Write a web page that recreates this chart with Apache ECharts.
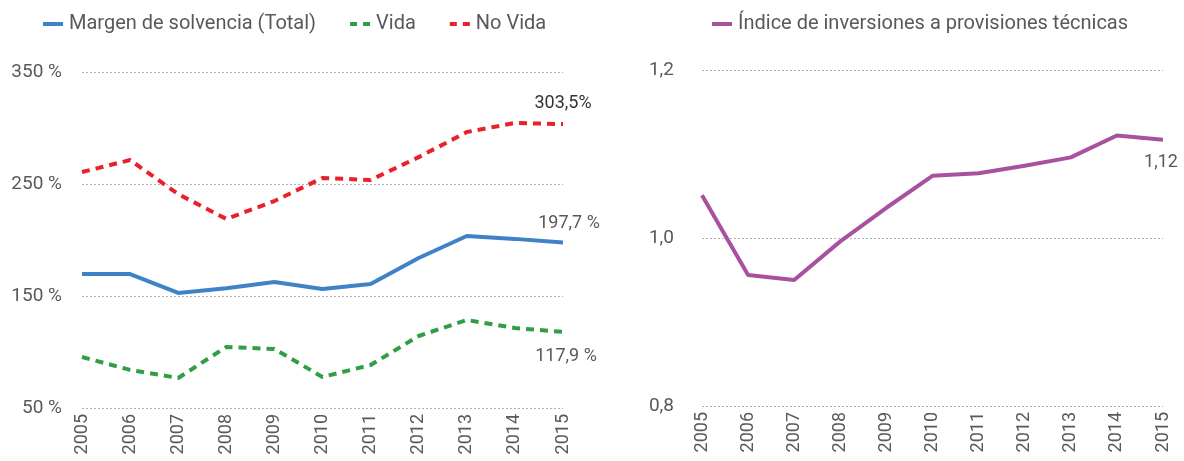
<!DOCTYPE html>
<html>
<head>
<meta charset="utf-8">
<script src="https://cdn.jsdelivr.net/npm/echarts@6/dist/echarts.min.js"></script>
<style>
    html, body { margin: 0; padding: 0; background: #fff; }
    #chart { width: 1184px; height: 461px; }
</style>
</head>
<body>
<div id="chart"></div>
<script>
const years = ['2005', '2006', '2007', '2008', '2009', '2010', '2011', '2012', '2013', '2014', '2015'];
const totalValues = [169.6, 169.6, 152.7, 157, 162.5, 156.3, 160.7, 183.9, 203.6, 201, 197.7];
const vidaValues = [95.5, 84, 76.8, 104.5, 102.7, 77.7, 88.4, 114.3, 128.6, 121.4, 117.9];
const noVidaValues = [260.7, 271.4, 241, 218.8, 234.8, 255.4, 253.6, 274, 296.4, 304.5, 303.5];
const indiceValues = [1.051, 0.956, 0.950, 0.996, 1.036, 1.074, 1.077, 1.086, 1.096, 1.122, 1.117];
const leftTicks = [50, 150, 250, 350];
const rightTicks = [0.8, 1.0, 1.2];

const font = '"Roboto", sans-serif';
const gray = '#595959';

// etiqueta en el último punto, con un markPoint invisible
function lastLabel(values, text, pos, color, dist, dx) {
    const last = values.length - 1;
    return {
        symbol: 'circle',
        symbolSize: 0,
        silent: true,
        data: [{
            coord: [last, values[last]],
            label: {
                show: true,
                position: pos,
                distance: dist,
                offset: [dx, 0],
                formatter: text,
                color: color,
                fontSize: 18,
                fontFamily: font
            }
        }]
    };
}

function xAxis(idx) {
    return {
        type: 'category',
        gridIndex: idx,
        boundaryGap: false,
        data: years,
        axisLine: { show: false },
        axisTick: { show: false },
        axisLabel: { rotate: 90, color: gray, fontSize: 18, fontFamily: font, margin: 6 }
    };
}

const legendText = { color: gray, fontSize: 20, fontFamily: font, padding: [0, 0, 0, 1] };
const solidIcon = 'path://M0,0h20v4h-20z';
const dashIcon = 'path://M0,0h7v4h-7z M13,0h7v4h-7z';

let myChart = echarts.init(document.getElementById('chart'));
myChart.setOption({
    animation: false,
    legend: [{
        left: 38,
        top: 9,
        itemWidth: 20,
        itemHeight: 4,
        itemGap: 34,
        textStyle: legendText,
        data: [
            { name: 'Margen de solvencia (Total)', icon: solidIcon },
            { name: 'Vida', icon: dashIcon },
            { name: 'No Vida', icon: dashIcon }
        ]
    }, {
        left: 707,
        top: 9,
        itemWidth: 20,
        itemHeight: 4,
        textStyle: legendText,
        data: [{ name: 'Índice de inversiones a provisiones técnicas', icon: solidIcon }]
    }],
    grid: [
        { left: 82, right: 621, top: 72, bottom: 53 },
        { left: 702, right: 21, top: 70, bottom: 55 }
    ],
    xAxis: [xAxis(0), xAxis(1)],
    yAxis: [{
        type: 'value',
        gridIndex: 0,
        min: leftTicks[0],
        max: leftTicks[leftTicks.length - 1],
        interval: 100,
        axisLine: { show: false },
        axisTick: { show: false },
        splitLine: { lineStyle: { color: '#b0b0b0', type: [2, 2], width: 1 } },
        axisLabel: { color: gray, fontSize: 19, fontFamily: font, margin: 20, formatter: (v) => v + ' %' }
    }, {
        type: 'value',
        gridIndex: 1,
        min: rightTicks[0],
        max: rightTicks[rightTicks.length - 1],
        interval: 0.2,
        axisLine: { show: false },
        axisTick: { show: false },
        splitLine: { lineStyle: { color: '#b0b0b0', type: [2, 2], width: 1 } },
        axisLabel: { color: gray, fontSize: 19, fontFamily: font, margin: 28, formatter: (v) => v.toFixed(1).replace('.', ',') }
    }],
    series: [{
        name: 'Margen de solvencia (Total)',
        type: 'line',
        xAxisIndex: 0,
        yAxisIndex: 0,
        showSymbol: false,
        symbol: 'none',
        color: '#3f82c8',
        lineStyle: { width: 4, color: '#3f82c8' },
        data: totalValues,
        markPoint: lastLabel(totalValues, '197,7 %', 'top', gray, 10, 6)
    }, {
        name: 'Vida',
        type: 'line',
        xAxisIndex: 0,
        yAxisIndex: 0,
        showSymbol: false,
        symbol: 'none',
        color: '#2f9e45',
        lineStyle: { width: 4, color: '#2f9e45', type: [8, 6] },
        data: vidaValues,
        markPoint: lastLabel(vidaValues, '117,9 %', 'bottom', gray, 16, 3)
    }, {
        name: 'No Vida',
        type: 'line',
        xAxisIndex: 0,
        yAxisIndex: 0,
        showSymbol: false,
        symbol: 'none',
        color: '#e8212b',
        lineStyle: { width: 4, color: '#e8212b', type: [8, 6] },
        data: noVidaValues,
        markPoint: lastLabel(noVidaValues, '303,5%', 'top', '#333333', 12, 0)
    }, {
        name: 'Índice de inversiones a provisiones técnicas',
        type: 'line',
        xAxisIndex: 1,
        yAxisIndex: 1,
        showSymbol: false,
        symbol: 'none',
        color: '#a8519f',
        lineStyle: { width: 4, color: '#a8519f' },
        data: indiceValues,
        markPoint: lastLabel(indiceValues, '1,12', 'bottom', gray, 14, -2)
    }]
});
</script>
</body>
</html>
